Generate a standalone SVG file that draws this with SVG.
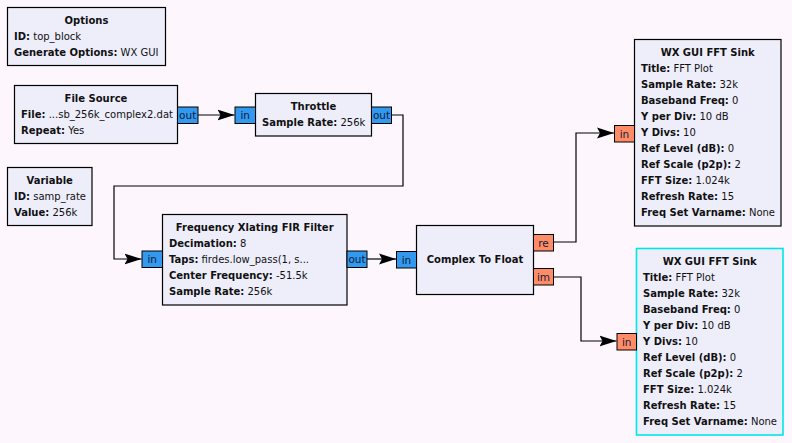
<svg xmlns="http://www.w3.org/2000/svg" width="792" height="443" viewBox="0 0 792 443">
<style>
text{font-family:"DejaVu Sans","Liberation Sans",sans-serif;font-size:10px;fill:#111}
.t{font-weight:bold;text-anchor:middle}
.k{font-weight:bold}
.blk{fill:#EEEEFB;stroke:#000;stroke-width:1.2}
.sel{stroke:#00E5E5;stroke-width:1.6}
.pc{fill:#3399EE;stroke:#000;stroke-width:1}
.pf{fill:#FF8C66;stroke:#000;stroke-width:1}
.pl{text-anchor:middle;font-size:10.5px;fill:#102040}
.wire{fill:none;stroke:#000;stroke-width:1.2}
</style>
<defs>
<marker id="arr" markerWidth="18" markerHeight="12" refX="17" refY="6" orient="auto" markerUnits="userSpaceOnUse">
<path d="M0,0.5 L17,6 L0,11.5 L3,6 Z" fill="#000"/>
</marker>
</defs>
<rect width="792" height="443" fill="#FDF7FD"/>

<g id="connectors">
<path class="wire" d="M198,115 H234.5" marker-end="url(#arr)"/>
<path class="wire" d="M391,115 H403 V186 H114 V259 H141.5" marker-end="url(#arr)"/>
<path class="wire" d="M367,259 H396" marker-end="url(#arr)"/>
<path class="wire" d="M553,242 H576 V133 H614" marker-end="url(#arr)"/>
<path class="wire" d="M553,277 H581 V341 H616.5" marker-end="url(#arr)"/>
</g>

<g id="options">
<rect class="blk" x="7.5" y="7.5" width="158" height="58"/>
<text class="t" x="86.5" y="24">Options</text>
<text x="14" y="40"><tspan class="k">ID:</tspan> top_block</text>
<text x="14" y="56"><tspan class="k">Generate Options:</tspan> WX GUI</text>
</g>

<g id="file_source">
<rect class="blk" x="14.5" y="85.5" width="163" height="58"/>
<text class="t" x="96" y="102">File Source</text>
<text x="21" y="118"><tspan class="k">File:</tspan> ...sb_256k_complex2.dat</text>
<text x="21" y="134"><tspan class="k">Repeat:</tspan> Yes</text>
<rect class="pc" x="177.5" y="107" width="20.5" height="16.5"/>
<text class="pl" x="187.7" y="119">out</text>
</g>

<g id="throttle">
<rect class="blk" x="255.5" y="93.5" width="116" height="42.5"/>
<text class="t" x="313.5" y="110">Throttle</text>
<text x="262" y="126"><tspan class="k">Sample Rate:</tspan> 256k</text>
<rect class="pc" x="235" y="107" width="20.5" height="16.5"/>
<text class="pl" x="245.2" y="119">in</text>
<rect class="pc" x="371.5" y="107" width="20" height="16.5"/>
<text class="pl" x="381.5" y="119">out</text>
</g>

<g id="variable">
<rect class="blk" x="7.5" y="167.5" width="84.5" height="58"/>
<text class="t" x="49.7" y="184">Variable</text>
<text x="14" y="200"><tspan class="k">ID:</tspan> samp_rate</text>
<text x="14" y="216"><tspan class="k">Value:</tspan> 256k</text>
</g>

<g id="freq_xlating_fir_filter">
<rect class="blk" x="162.5" y="214.5" width="184.5" height="90.5"/>
<text class="t" x="254.7" y="231">Frequency Xlating FIR Filter</text>
<text x="169" y="247"><tspan class="k">Decimation:</tspan> 8</text>
<text x="169" y="263"><tspan class="k">Taps:</tspan> firdes.low_pass(1, s...</text>
<text x="169" y="279"><tspan class="k">Center Frequency:</tspan> -51.5k</text>
<text x="169" y="295"><tspan class="k">Sample Rate:</tspan> 256k</text>
<rect class="pc" x="142" y="251" width="20.5" height="16.5"/>
<text class="pl" x="152.2" y="263">in</text>
<rect class="pc" x="347" y="251" width="20" height="16.5"/>
<text class="pl" x="357" y="263">out</text>
</g>

<g id="complex_to_float">
<rect class="blk" x="416.5" y="225.5" width="117" height="69"/>
<text class="t" x="475" y="263">Complex To Float</text>
<rect class="pc" x="396.5" y="251.5" width="20" height="16.5"/>
<text class="pl" x="406.5" y="263.5">in</text>
<rect class="pf" x="533.5" y="234.5" width="20" height="16.5"/>
<text class="pl" x="543.5" y="246.5">re</text>
<rect class="pf" x="533.5" y="268.5" width="20" height="16.5"/>
<text class="pl" x="543.5" y="280.5">im</text>
</g>

<g id="wxgui_fft_sink_1">
<rect class="blk" x="634.5" y="39.5" width="146.5" height="186.5"/>
<text class="t" x="707.7" y="56">WX GUI FFT Sink</text>
<text x="641" y="72"><tspan class="k">Title:</tspan> FFT Plot</text>
<text x="641" y="88"><tspan class="k">Sample Rate:</tspan> 32k</text>
<text x="641" y="104"><tspan class="k">Baseband Freq:</tspan> 0</text>
<text x="641" y="120"><tspan class="k">Y per Div:</tspan> 10 dB</text>
<text x="641" y="136"><tspan class="k">Y Divs:</tspan> 10</text>
<text x="641" y="152"><tspan class="k">Ref Level (dB):</tspan> 0</text>
<text x="641" y="168"><tspan class="k">Ref Scale (p2p):</tspan> 2</text>
<text x="641" y="184"><tspan class="k">FFT Size:</tspan> 1.024k</text>
<text x="641" y="200"><tspan class="k">Refresh Rate:</tspan> 15</text>
<text x="641" y="216"><tspan class="k">Freq Set Varname:</tspan> None</text>
<rect class="pf" x="614.5" y="125.5" width="20" height="16.5"/>
<text class="pl" x="624.5" y="137.5">in</text>
</g>

<g id="wxgui_fft_sink_2">
<rect class="blk sel" x="636.5" y="248.5" width="146.5" height="186.5"/>
<text class="t" x="709.7" y="265">WX GUI FFT Sink</text>
<text x="643" y="281"><tspan class="k">Title:</tspan> FFT Plot</text>
<text x="643" y="297"><tspan class="k">Sample Rate:</tspan> 32k</text>
<text x="643" y="313"><tspan class="k">Baseband Freq:</tspan> 0</text>
<text x="643" y="329"><tspan class="k">Y per Div:</tspan> 10 dB</text>
<text x="643" y="345"><tspan class="k">Y Divs:</tspan> 10</text>
<text x="643" y="361"><tspan class="k">Ref Level (dB):</tspan> 0</text>
<text x="643" y="377"><tspan class="k">Ref Scale (p2p):</tspan> 2</text>
<text x="643" y="393"><tspan class="k">FFT Size:</tspan> 1.024k</text>
<text x="643" y="409"><tspan class="k">Refresh Rate:</tspan> 15</text>
<text x="643" y="425"><tspan class="k">Freq Set Varname:</tspan> None</text>
<rect class="pf sel" x="617" y="333.5" width="19.5" height="16.5"/>
<text class="pl" x="626.7" y="345.5">in</text>
</g>
</svg>
